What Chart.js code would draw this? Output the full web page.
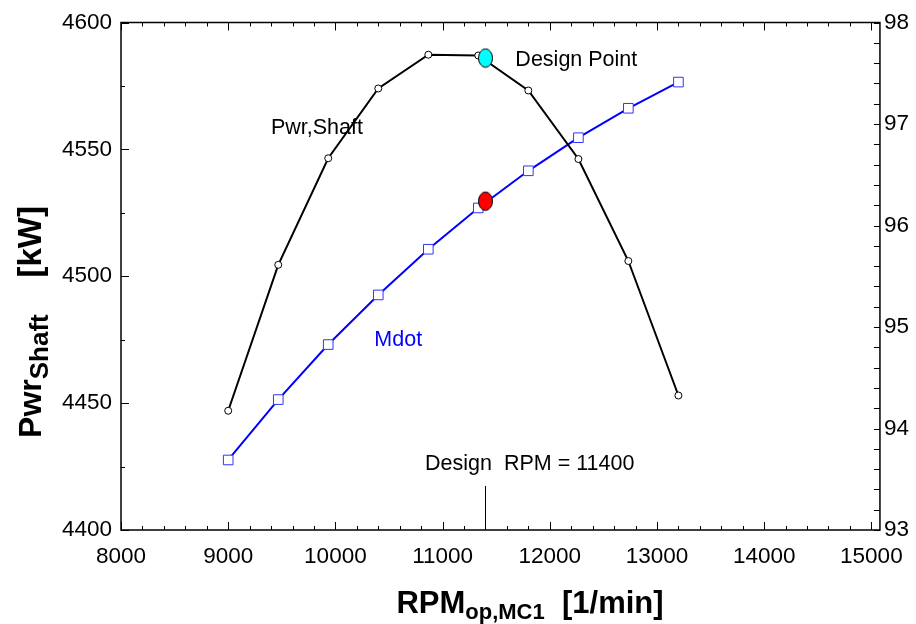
<!DOCTYPE html>
<html>
<head>
<meta charset="utf-8">
<script src="https://cdn.jsdelivr.net/npm/chart.js@4"></script>
<style>
  body { margin: 0; background: #fff; }
</style>
</head>
<body>
<canvas id="rpm-chart" width="916" height="624"></canvas>
<script>
// off-design sweep of compressor speed
const rpm = [9000, 9467, 9933, 10400, 10867, 11333, 11800, 12267, 12733, 13200];
const pwrShaft = [4447, 4504.5, 4546.5, 4574, 4587.3, 4587, 4573.2, 4546.2, 4506, 4453];
const mdot = [93.69, 94.285, 94.827, 95.316, 95.766, 96.173, 96.539, 96.865, 97.155, 97.413];

const designRpm = 11400;
const designPwr = 4586;
const designMdot = 96.24;

const xTicks = [8000, 9000, 10000, 11000, 12000, 13000, 14000, 15000];
const pwrTicks = [4400, 4450, 4500, 4550, 4600];
const mdotTicks = [93, 94, 95, 96, 97, 98];

const FONT = '"Liberation Sans", Arial, sans-serif';

function ellipseMarker(fill) {
    const c = document.createElement('canvas');
    c.width = 17;
    c.height = 21;
    const g = c.getContext('2d');
    g.beginPath();
    g.ellipse(8.5, 10.5, 7, 9.2, 0, 0, 2 * Math.PI);
    g.fillStyle = fill;
    g.fill();
    g.lineWidth = 1;
    g.strokeStyle = '#000';
    g.stroke();
    return c;
}

// draws text made of pieces, some of them lowered as subscripts
function drawRich(ctx, parts, cx, cy, rotate) {
    ctx.save();
    ctx.translate(cx, cy);
    if (rotate) ctx.rotate(-Math.PI / 2);
    let total = 0;
    parts.forEach(p => {
        ctx.font = `bold ${p.size}px ${FONT}`;
        p.w = ctx.measureText(p.text).width;
        total += p.w;
    });
    let x = -total / 2;
    ctx.fillStyle = '#000';
    ctx.textBaseline = 'alphabetic';
    ctx.textAlign = 'left';
    parts.forEach(p => {
        ctx.font = `bold ${p.size}px ${FONT}`;
        ctx.fillText(p.text, x, p.dy || 0);
        x += p.w;
    });
    ctx.restore();
}

const notes = [
    { text: 'Pwr,Shaft', x: 9399, y: 4556, color: '#000' },
    { text: 'Design Point', x: 11679, y: 4583, color: '#000' },
    { text: 'Mdot', x: 10363, y: 4472.5, color: '#0000ff' },
    { text: `Design  RPM = ${designRpm}`, x: 10836, y: 4423.5, color: '#000' }
];

const framePlugin = {
    id: 'frame',
    afterDraw(chart) {
        const ctx = chart.ctx;
        const area = chart.chartArea;
        const xs = chart.scales.x;
        const ys = chart.scales.y;
        const ys2 = chart.scales.y2;

        ctx.save();
        ctx.strokeStyle = '#000';
        ctx.lineWidth = 1;
        ctx.beginPath();
        // x ticks, bottom and top, pointing inward
        for (let v = 8000; v <= 15000; v += 200) {
            const px = Math.round(xs.getPixelForValue(v)) + 0.5;
            const len = v % 1000 === 0 ? 8 : 4;
            ctx.moveTo(px, area.bottom); ctx.lineTo(px, area.bottom - len);
            ctx.moveTo(px, area.top); ctx.lineTo(px, area.top + len);
        }
        // left axis ticks
        for (let v = 4400; v <= 4600; v += 25) {
            const py = Math.round(ys.getPixelForValue(v)) + 0.5;
            const len = v % 50 === 0 ? 8 : 4;
            ctx.moveTo(area.left, py); ctx.lineTo(area.left + len, py);
        }
        // right axis ticks
        for (let i = 0; i <= 25; i++) {
            const v = 93 + i * 0.2;
            const py = Math.round(ys2.getPixelForValue(v)) + 0.5;
            ctx.moveTo(area.right, py); ctx.lineTo(area.right - 6, py);
        }
        // design rpm marker
        const dx = Math.round(xs.getPixelForValue(designRpm)) + 0.5;
        ctx.moveTo(dx, area.bottom); ctx.lineTo(dx, area.bottom - 44);
        ctx.stroke();

        ctx.lineWidth = 1.5;
        ctx.strokeRect(area.left, area.top, area.right - area.left, area.bottom - area.top);

        ctx.font = `21.5px ${FONT}`;
        ctx.textBaseline = 'alphabetic';
        ctx.textAlign = 'left';
        notes.forEach(n => {
            ctx.fillStyle = n.color;
            ctx.fillText(n.text, xs.getPixelForValue(n.x), ys.getPixelForValue(n.y));
        });
        ctx.restore();

        drawRich(ctx, [
            { text: 'RPM', size: 31 },
            { text: 'op,MC1', size: 22, dy: 6 },
            { text: '  [1/min]', size: 31 }
        ], 530, 613, false);

        drawRich(ctx, [
            { text: 'Pwr', size: 32 },
            { text: 'Shaft', size: 26, dy: 7 },
            { text: '    [kW]', size: 33 }
        ], 41, 322, true);
    }
};

const tickFont = { family: FONT, size: 22.5 };
const plainLabel = (v) => String(v);

const ctx = document.getElementById('rpm-chart').getContext('2d');
const rpmChart = new Chart(ctx, {
    type: 'line',
    data: {
        datasets: [
            {
                label: 'Design Point Pwr',
                data: [{ x: designRpm, y: designPwr }],
                yAxisID: 'y',
                showLine: false,
                pointStyle: ellipseMarker('#00ffff'),
                order: 0
            },
            {
                label: 'Design Point Mdot',
                data: [{ x: designRpm, y: designMdot }],
                yAxisID: 'y2',
                showLine: false,
                pointStyle: ellipseMarker('#ff0000'),
                order: 0
            },
            {
                label: 'Pwr,Shaft',
                data: rpm.map((r, i) => ({ x: r, y: pwrShaft[i] })),
                yAxisID: 'y',
                borderColor: '#000',
                borderWidth: 2,
                pointRadius: 3.5,
                pointBackgroundColor: '#fff',
                pointBorderColor: '#000',
                pointBorderWidth: 1,
                tension: 0,
                order: 1
            },
            {
                label: 'Mdot',
                data: rpm.map((r, i) => ({ x: r, y: mdot[i] })),
                yAxisID: 'y2',
                borderColor: '#0000ff',
                borderWidth: 2,
                pointStyle: 'rect',
                pointRadius: 6.8,
                pointBackgroundColor: '#fff',
                pointBorderColor: '#3333ff',
                pointBorderWidth: 1,
                tension: 0,
                order: 1
            }
        ]
    },
    options: {
        responsive: false,
        animation: false,
        layout: { padding: { top: 19, left: 0, right: 0, bottom: 0 } },
        plugins: {
            legend: { display: false },
            tooltip: { enabled: false }
        },
        scales: {
            x: {
                type: 'linear',
                min: 8000,
                max: 15080,
                afterBuildTicks: (scale) => { scale.ticks = xTicks.map(v => ({ value: v })); },
                afterFit: (scale) => { scale.height = 94; },
                grid: { display: false, drawTicks: false },
                border: { display: false },
                ticks: { font: tickFont, color: '#000', padding: 13, maxRotation: 0, autoSkip: false, callback: plainLabel }
            },
            y: {
                type: 'linear',
                position: 'left',
                min: 4400,
                max: 4600,
                afterBuildTicks: (scale) => { scale.ticks = pwrTicks.map(v => ({ value: v })); },
                afterFit: (scale) => { scale.width = 121; },
                grid: { display: false, drawTicks: false },
                border: { display: false },
                ticks: { font: tickFont, color: '#000', padding: 9, callback: plainLabel }
            },
            y2: {
                type: 'linear',
                position: 'right',
                min: 93,
                max: 98,
                afterBuildTicks: (scale) => { scale.ticks = mdotTicks.map(v => ({ value: v })); },
                afterFit: (scale) => { scale.width = 31; },
                grid: { display: false, drawTicks: false },
                border: { display: false },
                ticks: { font: tickFont, color: '#000', padding: 4, callback: plainLabel }
            }
        }
    },
    plugins: [framePlugin]
});
</script>
</body>
</html>
